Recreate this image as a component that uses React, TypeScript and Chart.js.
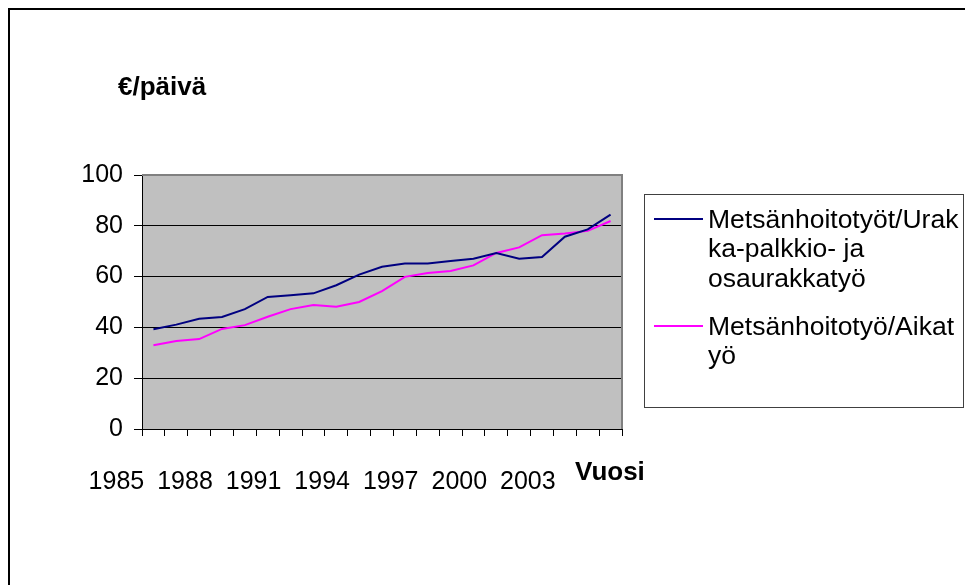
import React, { useEffect, useRef } from "react";
import { Chart, registerables } from "chart.js";

Chart.register(...registerables);

const years = [
  "1985", "1986", "1987", "1988", "1989", "1990", "1991", "1992", "1993", "1994", "1995",
  "1996", "1997", "1998", "1999", "2000", "2001", "2002", "2003", "2004", "2005",
];
const urakka = [
  39.3, 41.1, 43.4, 44.1, 47.2, 52.0, 52.7, 53.4, 56.6, 60.8, 63.9,
  65.2, 65.2, 66.1, 67.0, 69.3, 67.0, 67.7, 75.7, 78.6, 84.4,
];
const aika = [
  33.0, 34.6, 35.4, 39.4, 40.9, 44.2, 47.2, 48.8, 48.1, 50.0, 54.3,
  59.9, 61.4, 62.2, 64.4, 69.3, 71.5, 76.3, 77.0, 78.0, 81.9,
];
const seriesNames = [
  "Metsänhoitotyöt/Urakka-palkkio- ja osaurakkatyö",
  "Metsänhoitotyö/Aikatyö",
];
const legendLines = [
  ["Metsänhoitotyöt/Urak", "ka-palkkio- ja", "osaurakkatyö"],
  ["Metsänhoitotyö/Aikat", "yö"],
];
const seriesColors = ["#000080", "#FF00FF"];
const yTitle = "€/päivä";
const xTitle = "Vuosi";

const FONT = "'Liberation Sans', Arial, sans-serif";

export default function App() {
  const ref = useRef<HTMLCanvasElement>(null);

  useEffect(() => {
    const canvas = ref.current;
    if (!canvas) return;

    const decor = {
      id: "decor",
      beforeDraw(chart: any) {
        const { ctx, chartArea } = chart;
        ctx.save();
        ctx.fillStyle = "#ffffff";
        ctx.fillRect(0, 0, chart.width, chart.height);
        ctx.strokeStyle = "#000000";
        ctx.lineWidth = 2;
        ctx.strokeRect(9, 9, 2000, 2000);
        ctx.fillStyle = "#C0C0C0";
        ctx.fillRect(chartArea.left, chartArea.top, chartArea.right - chartArea.left, chartArea.bottom - chartArea.top);
        ctx.fillStyle = "#000000";
        ctx.font = `bold 26px ${FONT}`;
        ctx.textBaseline = "alphabetic";
        ctx.textAlign = "left";
        ctx.fillText(yTitle, 118, 95);
        ctx.fillText(xTitle, 575, 480);
        ctx.restore();
      },
      beforeDatasetsDraw(chart: any) {
        const { ctx, chartArea } = chart;
        ctx.save();
        ctx.strokeStyle = "#808080";
        ctx.lineWidth = 2;
        ctx.beginPath();
        ctx.moveTo(chartArea.left, chartArea.top);
        ctx.lineTo(chartArea.right, chartArea.top);
        ctx.lineTo(chartArea.right, chartArea.bottom);
        ctx.stroke();
        ctx.restore();
      },
      afterDraw(chart: any) {
        const { ctx } = chart;
        ctx.save();
        ctx.fillStyle = "#ffffff";
        ctx.fillRect(644, 194, 319, 213);
        ctx.strokeStyle = "#404040";
        ctx.lineWidth = 1;
        ctx.strokeRect(644.5, 194.5, 319, 213);
        ctx.font = `26.5px ${FONT}`;
        ctx.textAlign = "left";
        ctx.textBaseline = "alphabetic";
        const starts = [227.5, 334.5];
        const lineH = 29.8;
        legendLines.forEach((lines, i) => {
          const base = starts[i];
          ctx.strokeStyle = seriesColors[i];
          ctx.lineWidth = 2;
          ctx.beginPath();
          ctx.moveTo(654, base - 8.5);
          ctx.lineTo(703, base - 8.5);
          ctx.stroke();
          ctx.fillStyle = "#000000";
          lines.forEach((t, j) => ctx.fillText(t, 708, base + j * lineH));
        });
        ctx.restore();
      },
    };

    const chart = new Chart(canvas, {
      type: "line",
      data: {
        labels: years,
        datasets: [
          {
            label: seriesNames[0],
            data: urakka,
            borderColor: seriesColors[0],
            backgroundColor: seriesColors[0],
            borderWidth: 2,
            pointRadius: 0,
            tension: 0,
          },
          {
            label: seriesNames[1],
            data: aika,
            borderColor: seriesColors[1],
            backgroundColor: seriesColors[1],
            borderWidth: 2,
            pointRadius: 0,
            tension: 0,
          },
        ],
      },
      options: {
        responsive: false,
        animation: false,
        devicePixelRatio: 1,
        layout: { padding: { left: 0, top: 175, right: 343, bottom: 0 } },
        plugins: {
          legend: { display: false },
          tooltip: { enabled: false },
          title: { display: false },
        },
        scales: {
          x: {
            type: "category",
            offset: true,
            afterFit: (s: any) => {
              s.height = 156;
            },
            grid: {
              offset: true,
              drawOnChartArea: false,
              drawTicks: true,
              tickLength: 7,
              color: "#000000",
              tickColor: "#000000",
            },
            border: { display: true, color: "#000000", width: 1 },
            ticks: {
              autoSkip: false,
              maxRotation: 0,
              minRotation: 0,
              labelOffset: -37,
              padding: 31,
              color: "#000000",
              font: { family: FONT, size: 25 },
              callback: (_v: any, i: number) => (i % 3 === 0 ? years[i] : ""),
            },
          },
          y: {
            min: 0,
            max: 100,
            afterFit: (s: any) => {
              s.width = 142;
            },
            grid: {
              color: (c: any) => (c.tick && c.tick.value === 100 ? "#808080" : "#000000"),
              tickColor: "#000000",
              tickLength: 8,
              lineWidth: 1,
            },
            border: { display: true, color: "#000000", width: 1 },
            ticks: {
              stepSize: 20,
              padding: 11,
              color: "#000000",
              font: { family: FONT, size: 25 },
            },
          },
        },
      },
      plugins: [decor],
    });

    return () => chart.destroy();
  }, []);

  return (
    <div style={{ position: "fixed", left: 0, top: 0, width: 965, height: 585 }}>
      <canvas ref={ref} width={965} height={585} style={{ display: "block" }} />
    </div>
  );
}
